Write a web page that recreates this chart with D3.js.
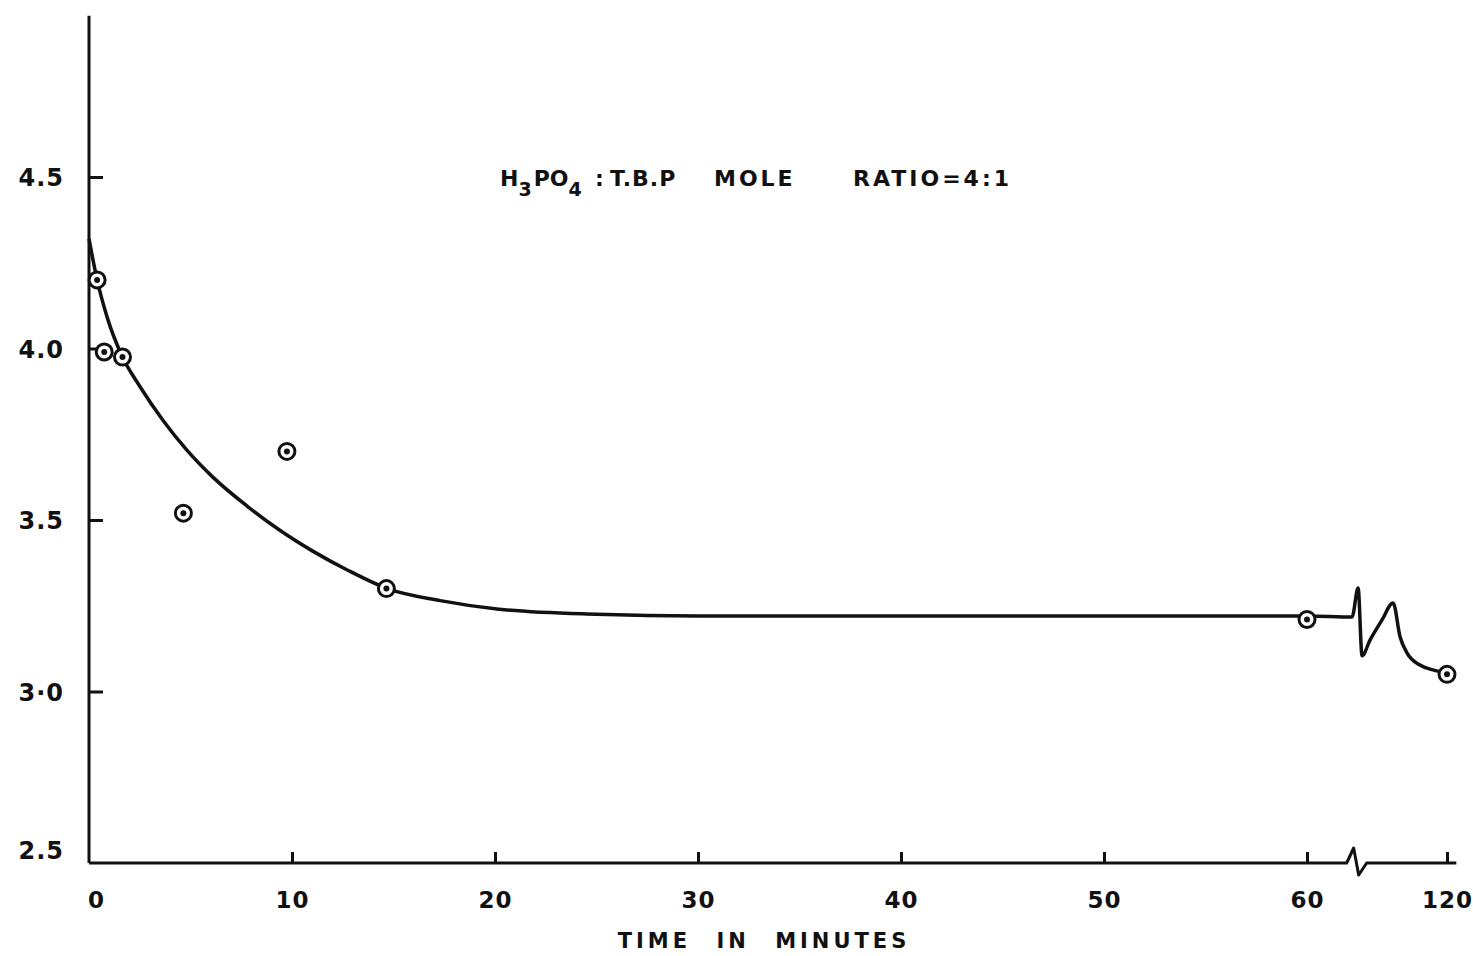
<!DOCTYPE html>
<html>
<head>
<meta charset="utf-8">
<script src="https://cdn.jsdelivr.net/npm/d3@7"></script>
<style>
  body { margin: 0; background: #fff; }
  text { font-family: "DejaVu Sans", sans-serif; font-weight: bold; fill: #111; }
</style>
</head>
<body>
<svg id="chart" width="1473" height="956"></svg>
<script>
// measured points (time in minutes, value)
var pointTimes = [0.4, 0.75, 1.65, 4.65, 9.75, 14.65, 60, 120];
var pointValues = [4.20, 3.99, 3.975, 3.52, 3.70, 3.30, 3.21, 3.05];

// hand drawn curve through the points, incl. the wiggle after the break
var curveTimes = [0, 0.4, 0.9, 1.65, 2.5, 3.65, 4.8, 6.1, 7.8, 9.4, 11, 12.7, 14.7, 17.3, 20.2, 25, 30, 45, 60,
                  79.3, 81.9, 83.6, 87.0, 92.1, 96.9, 99.9, 102.9, 108.4, 114, 120];
var curveValues = [4.32, 4.20, 4.09, 3.975, 3.89, 3.79, 3.705, 3.625, 3.54, 3.47, 3.41, 3.355, 3.30, 3.265, 3.24, 3.225, 3.22, 3.22, 3.22,
                   3.217, 3.302, 3.104, 3.150, 3.208, 3.258, 3.159, 3.112, 3.077, 3.063, 3.054];

var xTickValues = [0, 10, 20, 30, 40, 50, 60, 120];
var xTickLabels = ["0", "10", "20", "30", "40", "50", "60", "120"];
var yTickValues = [2.5, 3.0, 3.5, 4.0, 4.5];
var yTickLabels = ["2.5", "3·0", "3.5", "4.0", "4.5"];

var breakAt = 80,   // axis break between 60 and 120
    xEnd = 124,
    yTop = 4.97;

var svg = d3.select("#chart");

// broken time axis: 0-60 linear, then 60-120 squeezed
var x = d3.scaleLinear()
  .domain([0, 60, 120])
  .range([89, 1307, 1447]);

var y = d3.scaleLinear()
  .domain([2.5, 4.5])
  .range([863, 177]);

var ink = "#111";

// y axis
var yAxis = d3.axisLeft(y)
  .tickValues(yTickValues)
  .tickFormat(function(d, i) { return yTickLabels[i]; })
  .tickSizeInner(-14)
  .tickSizeOuter(0)
  .tickPadding(25);

var gy = svg.append("g")
  .attr("transform", "translate(" + x(0) + ",0)")
  .call(yAxis);
gy.select(".domain").remove();
gy.selectAll(".tick line")
  .attr("stroke", ink)
  .attr("stroke-width", 3)
  .filter(function(d) { return d == 2.5; }).remove();
gy.selectAll(".tick text")
  .attr("font-size", 24)
  .attr("font-family", "DejaVu Sans")
  .attr("font-weight", "bold")
  .attr("letter-spacing", 1)
  .attr("fill", ink)
  .attr("dy", function(d) { return d == 2.5 ? "-0.2em" : "0.36em"; });

svg.append("line")
  .attr("x1", x(0)).attr("x2", x(0))
  .attr("y1", y(2.5)).attr("y2", y(yTop))
  .attr("stroke", ink)
  .attr("stroke-width", 3);

// x axis
var xAxis = d3.axisBottom(x)
  .tickValues(xTickValues)
  .tickFormat(function(d, i) { return xTickLabels[i]; })
  .tickSizeInner(-11)
  .tickSizeOuter(0)
  .tickPadding(29);

var gx = svg.append("g")
  .attr("transform", "translate(0," + y(2.5) + ")")
  .call(xAxis);
gx.select(".domain").remove();
gx.selectAll(".tick line")
  .attr("stroke", ink)
  .attr("stroke-width", 3)
  .filter(function(d) { return d == 0; }).remove();
gx.selectAll(".tick text")
  .attr("font-size", 23)
  .attr("font-family", "DejaVu Sans")
  .attr("font-weight", "bold")
  .attr("letter-spacing", 1)
  .attr("fill", ink)
  .attr("dx", function(d) { return d == 0 ? 7 : 0; });

// baseline with the break zigzag
var xb = x(breakAt), y0 = y(2.5);
svg.append("path")
  .attr("d", "M" + x(0) + "," + y0 +
             "L" + (xb - 7) + "," + y0 +
             "L" + xb + "," + (y0 - 15) +
             "L" + (xb + 5) + "," + (y0 + 12) +
             "L" + (xb + 13) + "," + y0 +
             "L" + x(xEnd) + "," + y0)
  .attr("fill", "none")
  .attr("stroke", ink)
  .attr("stroke-width", 3)
  .attr("stroke-linejoin", "round");

// curve
var line = d3.line()
  .x(function(d) { return x(d[0]); })
  .y(function(d) { return y(d[1]); })
  .curve(d3.curveMonotoneX);

svg.append("path")
  .datum(d3.zip(curveTimes, curveValues))
  .attr("d", line)
  .attr("fill", "none")
  .attr("stroke", ink)
  .attr("stroke-width", 3.5)
  .attr("stroke-linejoin", "round");

// points: ring with a dot
var pts = svg.selectAll("g.pt")
  .data(d3.zip(pointTimes, pointValues))
  .enter().append("g")
    .attr("class", "pt")
    .attr("transform", function(d) { return "translate(" + x(d[0]) + "," + y(d[1]) + ")"; });

pts.append("circle")
  .attr("r", 8)
  .attr("fill", "#fff")
  .attr("stroke", ink)
  .attr("stroke-width", 3);

pts.append("circle")
  .attr("r", 3)
  .attr("fill", ink);

// annotation
var note = svg.append("text")
  .attr("y", 186)
  .attr("font-size", 22);
note.append("tspan").attr("x", 500).text("H");
note.append("tspan").attr("dy", 10).attr("font-size", 19).text("3");
note.append("tspan").attr("dy", -10).attr("dx", 2).text("PO");
note.append("tspan").attr("dy", 10).attr("font-size", 19).text("4");
note.append("tspan").attr("dy", -10).attr("x", 595).text(":");
note.append("tspan").attr("x", 610).attr("letter-spacing", 1).text("T.B.P");
note.append("tspan").attr("x", 714).attr("letter-spacing", 3).text("MOLE");
note.append("tspan").attr("x", 853).attr("letter-spacing", 3).text("RATIO=4:1");

// axis title
svg.append("text")
  .attr("x", 764)
  .attr("y", 948)
  .attr("text-anchor", "middle")
  .attr("font-size", 21)
  .attr("letter-spacing", 4)
  .attr("word-spacing", 14)
  .text("TIME  IN  MINUTES");
</script>
</body>
</html>
